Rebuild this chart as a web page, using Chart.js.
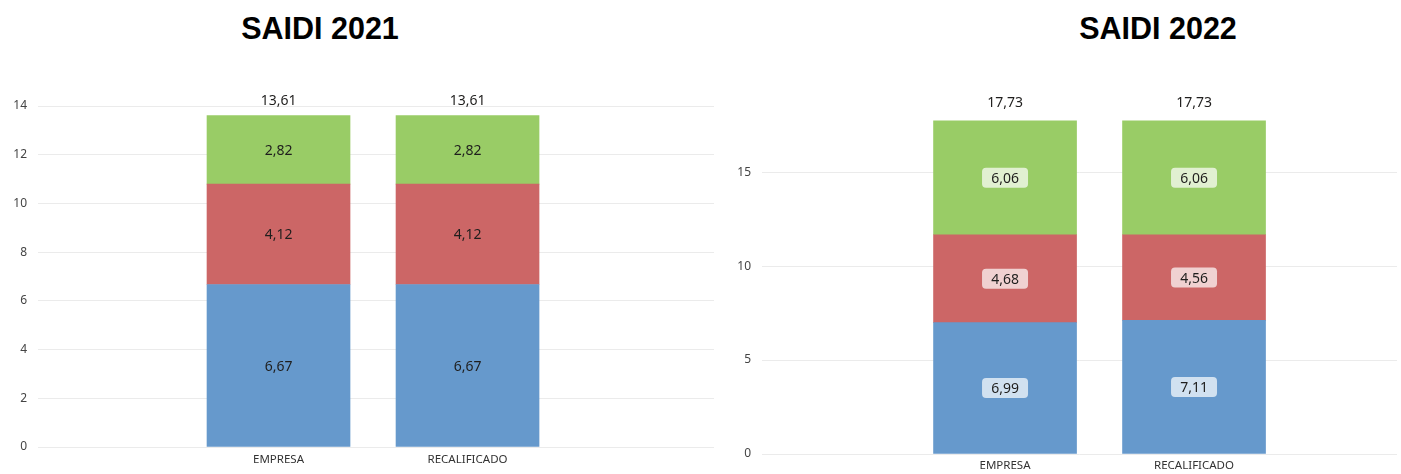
<!DOCTYPE html>
<html>
<head>
<meta charset="utf-8">
<script src="https://cdn.jsdelivr.net/npm/chart.js@4.4.1/dist/chart.umd.min.js"></script>
<style>
    body { margin: 0; background: #fff; }
    .title {
        position: absolute; top: 13px; width: 400px; text-align: center;
        font-family: "Liberation Sans", Arial, sans-serif; font-weight: bold;
        font-size: 30.5px; line-height: 30.5px; color: #000;
    }
    .box { position: absolute; top: 0; height: 474px; }
</style>
</head>
<body>
<div class="title" style="left:120px">SAIDI 2021</div>
<div class="title" style="left:958px">SAIDI 2022</div>
<div class="box" style="left:0; width:720px"><canvas id="chart2021"></canvas></div>
<div class="box" style="left:720px; width:681px"><canvas id="chart2022"></canvas></div>
<script>
const categories = ['EMPRESA', 'RECALIFICADO'];

// SAIDI 2021 (bottom to top)
const blue2021 = [6.67, 6.67];
const red2021 = [4.12, 4.12];
const green2021 = [2.82, 2.82];

// SAIDI 2022 (bottom to top)
const blue2022 = [6.99, 7.11];
const red2022 = [4.68, 4.56];
const green2022 = [6.06, 6.06];

const colors = ['#6699CC', '#CC6666', '#99CC66'];

function fmt(v) {
    return v.toFixed(2).replace('.', ',');
}

function roundRect(ctx, x, y, w, h, r) {
    ctx.beginPath();
    ctx.moveTo(x + r, y);
    ctx.lineTo(x + w - r, y);
    ctx.quadraticCurveTo(x + w, y, x + w, y + r);
    ctx.lineTo(x + w, y + h - r);
    ctx.quadraticCurveTo(x + w, y + h, x + w - r, y + h);
    ctx.lineTo(x + r, y + h);
    ctx.quadraticCurveTo(x, y + h, x, y + h - r);
    ctx.lineTo(x, y + r);
    ctx.quadraticCurveTo(x, y, x + r, y);
    ctx.closePath();
}

// draws the value in each segment and the total above each bar
const labelPlugin = {
    id: 'segLabels',
    afterDatasetsDraw(chart, args, opts) {
        const ctx = chart.ctx;
        ctx.save();
        ctx.font = '14px "Noto Sans", sans-serif';
        ctx.textAlign = 'center';
        ctx.textBaseline = 'middle';
        chart.data.datasets.forEach((ds, di) => {
            const meta = chart.getDatasetMeta(di);
            meta.data.forEach((bar, i) => {
                const v = ds.data[i].y;
                const cy = (bar.y + bar.base) / 2;
                const txt = fmt(v);
                if (opts.boxed) {
                    ctx.fillStyle = 'rgba(255,255,255,0.7)';
                    roundRect(ctx, bar.x - 23, cy - 10, 46, 20, 4);
                    ctx.fill();
                }
                ctx.fillStyle = '#1f1e1d';
                ctx.fillText(txt, bar.x, cy + 1);
            });
        });
        // totals
        const yScale = chart.scales.y;
        const last = chart.getDatasetMeta(chart.data.datasets.length - 1);
        categories.forEach((c, i) => {
            let total = 0;
            chart.data.datasets.forEach(ds => { total += ds.data[i].y; });
            const y = yScale.getPixelForValue(total) - opts.totalOffset;
            ctx.fillStyle = '#1f1e1d';
            ctx.fillText(fmt(total), last.data[i].x, y);
        });
        ctx.restore();
    }
};

function makeChart(id, series, cfg) {
    const names = ['Azul', 'Rojo', 'Verde'];
    const datasets = series.map((arr, k) => ({
        label: names[k],
        data: arr.map((v, i) => ({ x: i, y: v })),
        backgroundColor: colors[k],
        borderWidth: 0,
        barThickness: 143
    }));
    return new Chart(document.getElementById(id), {
        type: 'bar',
        data: { datasets: datasets },
        options: {
            responsive: true,
            maintainAspectRatio: false,
            animation: false,
            layout: { padding: { top: cfg.padTop, right: cfg.padRight, left: 0, bottom: 0 } },
            plugins: {
                legend: { display: false },
                tooltip: { enabled: false },
                segLabels: { boxed: cfg.boxed, totalOffset: cfg.totalOffset }
            },
            scales: {
                x: {
                    type: 'linear',
                    stacked: true,
                    offset: false,
                    min: cfg.xMin,
                    max: cfg.xMax,
                    afterBuildTicks: scale => {
                        scale.ticks = categories.map((c, i) => ({ value: i }));
                    },
                    afterFit: scale => { scale.height = cfg.xHeight; },
                    grid: { display: false, drawTicks: false },
                    border: { display: false },
                    ticks: {
                        callback: v => categories[v],
                        autoSkip: false,
                        maxRotation: 0,
                        padding: cfg.xPad,
                        color: '#333',
                        font: { family: '"Noto Sans", sans-serif', size: 11.5 }
                    }
                },
                y: {
                    stacked: true,
                    min: 0,
                    max: cfg.yMax,
                    afterFit: scale => { scale.width = cfg.yWidth; },
                    grid: { color: '#ebebeb', lineWidth: 1, drawTicks: false },
                    border: { display: false },
                    ticks: {
                        stepSize: cfg.yStep,
                        includeBounds: false,
                        padding: cfg.yPad,
                        color: '#444',
                        font: { family: '"Noto Sans", sans-serif', size: 12 }
                    }
                }
            }
        },
        plugins: [labelPlugin]
    });
}

makeChart('chart2021', [blue2021, red2021, green2021], {
    yMax: 14, yStep: 2, padTop: 106, padRight: 6, yWidth: 38, yPad: 11,
    xHeight: 27, xPad: 6, xMin: -1.2725, xMax: 2.304, boxed: false, totalOffset: 14
});

makeChart('chart2022', [blue2022, red2022, green2022], {
    yMax: 19, yStep: 5, padTop: 97, padRight: 4, yWidth: 42, yPad: 11,
    xHeight: 20, xPad: 5, xMin: -1.286, xMax: 2.074, boxed: true, totalOffset: 18
});
</script>
</body>
</html>
